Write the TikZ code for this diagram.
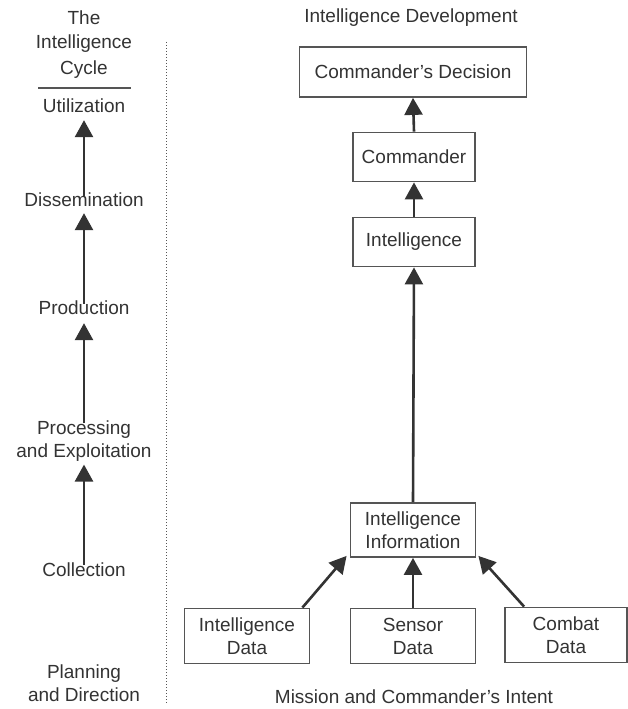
\documentclass[tikz,border=0pt]{standalone}
\usepackage{fontspec}
\setmainfont{Liberation Sans}
\usetikzlibrary{arrows.meta}
\definecolor{ink}{HTML}{333333}
\definecolor{edge}{HTML}{555555}
\begin{document}
\begin{tikzpicture}[x=1pt,y=-1pt,
  lbl/.style={font=\fontsize{19}{23}\selectfont, text=ink, align=center, inner sep=3pt},
  box/.style={draw=edge, line width=1.8pt, fill=white, font=\fontsize{19}{23}\selectfont, text=ink, align=center, inner sep=2pt},
  arr/.style={draw=ink, line width=2.6pt, -{Triangle[width=18pt,length=17pt]}}]
\useasboundingbox (0,0) rectangle (628,709);
% left column
\node[lbl] (t1) at (84,18) {The};
\node[lbl] (t2) at (84,44) {Intelligence};
\node[lbl] (t3) at (84,70) {Cycle};
\draw[edge, line width=1.3pt] (38,88) -- (131,88);
\node[lbl] (util) at (84,106) {Utilization};
\node[lbl] (diss) at (84,200) {Dissemination};
\node[lbl] (prod) at (84,308) {Production};
\node[lbl] (proc) at (84,441) {Processing\\and Exploitation};
\node[lbl] (coll) at (84,570) {Collection};
\node[lbl] (plan) at (84,683) {Planning\\and Direction};
\draw[arr] ([yshift=-6]diss.north) -- ([yshift=-4]util.south);
\draw[arr] ([yshift=-6]prod.north) -- ([yshift=-3]diss.south);
\draw[arr] ([yshift=-6]proc.north) -- ([yshift=-5]prod.south);
\draw[arr] ([yshift=-5]coll.north) -- ([yshift=0]proc.south);
% divider
\draw[edge, line width=1pt, dotted] (166,42) -- (166,703);
% right
\node[lbl] (title) at (411,18) {Intelligence Development};
\node[box, minimum width=227, minimum height=50] (dec) at (413,72) {Commander's Decision};
\node[box, minimum width=122, minimum height=49] (cmd) at (414,157) {Commander};
\node[box, minimum width=122, minimum height=49] (intel) at (414,242) {Intelligence};
\node[box, minimum width=125, minimum height=54] (info) at (413,530) {Intelligence\\Information};
\node[box, minimum width=125, minimum height=55] (idata) at (247,636) {Intelligence\\Data};
\node[box, minimum width=125, minimum height=55] (sdata) at (413,636) {Sensor\\Data};
\node[box, minimum width=122, minimum height=55] (cdata) at (566,635) {Combat\\Data};
\node[lbl] (mission) at (414,697) {Mission and Commander's Intent};
\draw[arr] (cmd.north) -- (dec.south);
\draw[arr] (intel.north) -- (cmd.south);
\draw[arr] (info.north) -- (intel.south);
\draw[arr] (sdata.north) -- (info.south);
\draw[arr] ([xshift=-8]idata.north east) -- ([xshift=-3,yshift=2]info.south west);
\draw[arr] ([xshift=20]cdata.north west) -- ([xshift=2,yshift=2]info.south east);
\end{tikzpicture}
\end{document}
